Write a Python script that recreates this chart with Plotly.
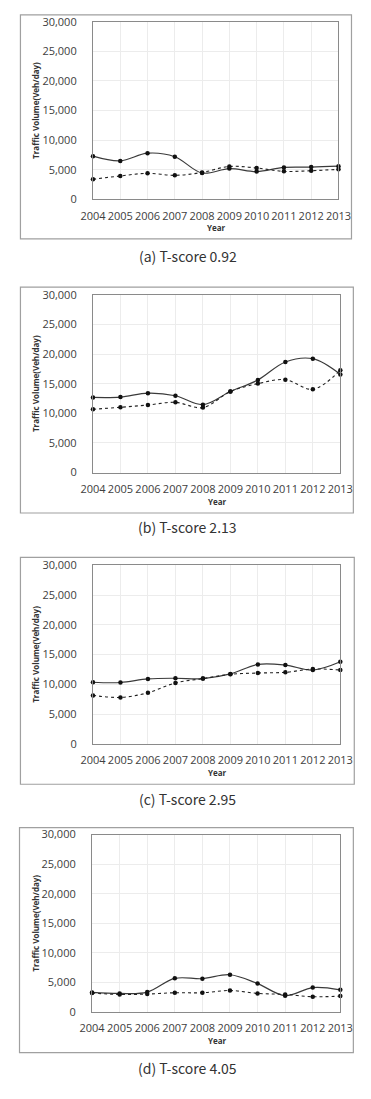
import plotly.graph_objects as go

W, H = 371, 1099

years = [2004, 2005, 2006, 2007, 2008, 2009, 2010, 2011, 2012, 2013]

a_solid = [7300, 6500, 7800, 7200, 4450, 5200, 4700, 5400, 5450, 5600]
a_dash = [3400, 3950, 4400, 4060, 4550, 5550, 5300, 4730, 4840, 5070]

b_solid = [12700, 12750, 13420, 12980, 11480, 13700, 15640, 18690, 19240, 16580]
b_dash = [10700, 11030, 11420, 11870, 10980, 13700, 15030, 15690, 14080, 17300]

c_solid = [10350, 10300, 10900, 11020, 10960, 11740, 13340, 13230, 12400, 13780]
c_dash = [8140, 7800, 8580, 10240, 10960, 11680, 11900, 12010, 12570, 12400]

d_solid = [3320, 3150, 3380, 5700, 5650, 6310, 4820, 2780, 4150, 3770]
d_dash = [3210, 2990, 3050, 3270, 3270, 3650, 3160, 2990, 2600, 2710]

captions = ["(a) T-score 0.92", "(b) T-score 2.13", "(c) T-score 2.95", "(d) T-score 4.05"]
y_ticks = [0, 5000, 10000, 15000, 20000, 25000, 30000]
y_ticklabels = ["0", "5,000", "10,000", "15,000", "20,000", "25,000", "30,000"]
x_title = "Year"
y_title = "Traffic Volume(Veh/day)"

panels = [(a_solid, a_dash), (b_solid, b_dash), (c_solid, c_dash), (d_solid, d_dash)]

# pixel layout: plot area (x0, x1, y0, y1), outer box (bx0, bx1, by0, by1), caption y
plot_px = [(86, 350, 14, 194), (86, 352, 291, 471), (86, 352, 565, 746), (85, 352, 838, 1018)]
box_px = [(8, 364, 7, 234), (8, 366, 283, 512), (8, 367, 557, 787), (7, 366, 831, 1059)]
cap_px = [251, 526, 802, 1075]

def px_x(p):
    return p / W

def px_y(p):
    return 1 - p / H

fig = go.Figure()
shapes = []
annotations = []

tick_font = dict(family="Open Sans", size=11, color="#404040")

for i, (solid, dash) in enumerate(panels):
    n = "" if i == 0 else str(i + 1)
    xa = "x" + n
    ya = "y" + n
    x0, x1, y0, y1 = plot_px[i]
    fig.add_trace(go.Scatter(
        x=years, y=solid, xaxis=xa, yaxis=ya, mode="lines+markers",
        line=dict(color="#3a3a3a", width=1.2, shape="spline", smoothing=1.0),
        marker=dict(color="#111111", size=4.5), cliponaxis=False, showlegend=False))
    fig.add_trace(go.Scatter(
        x=years, y=dash, xaxis=xa, yaxis=ya, mode="lines+markers",
        line=dict(color="#222222", width=1.1, dash="3px,3px", shape="spline", smoothing=1.0),
        marker=dict(color="#111111", size=4.5), cliponaxis=False, showlegend=False))

    fig.layout["xaxis" + n] = dict(
        domain=[px_x(x0), px_x(x1)], anchor=ya, range=[2004, 2013],
        tickmode="array", tickvals=years, ticktext=[str(y) for y in years],
        tickangle=0,
        showgrid=True, gridcolor="#ececec", gridwidth=1, zeroline=False,
        showline=True, linecolor="#8a8a8a", linewidth=1.2, mirror=True,
        ticks="", tickfont=tick_font, ticklabelstandoff=6, fixedrange=True)
    fig.layout["yaxis" + n] = dict(
        domain=[px_y(y1), px_y(y0)], anchor=xa, range=[0, 30000],
        tickmode="array", tickvals=y_ticks, ticktext=y_ticklabels,
        showgrid=True, gridcolor="#ececec", gridwidth=1, zeroline=False,
        showline=True, linecolor="#8a8a8a", linewidth=1.2, mirror=True,
        ticks="", tickfont=tick_font, ticklabelstandoff=13, fixedrange=True)

    bx0, bx1, by0, by1 = box_px[i]
    shapes.append(dict(type="rect", xref="paper", yref="paper",
                       x0=px_x(bx0), x1=px_x(bx1), y0=px_y(by1), y1=px_y(by0),
                       line=dict(color="#a0a0a0", width=1.2), fillcolor="rgba(0,0,0,0)",
                       layer="below"))
    # axis titles
    annotations.append(dict(text="<b>" + y_title + "</b>", xref="paper", yref="paper",
                            x=px_x(24), y=px_y((y0 + y1) / 2), showarrow=False,
                            textangle=-90, xanchor="center", yanchor="middle",
                            font=dict(family="Open Sans", size=8, color="#333333")))
    annotations.append(dict(text="<b>" + x_title + "</b>", xref="paper", yref="paper",
                            x=px_x((x0 + x1) / 2 + 1), y=px_y(y1 + 29), showarrow=False,
                            xanchor="center", yanchor="middle",
                            font=dict(family="Open Sans", size=8, color="#333333")))
    annotations.append(dict(text=captions[i], xref="paper", yref="paper",
                            x=px_x(188), y=px_y(cap_px[i]), showarrow=False,
                            xanchor="center", yanchor="middle",
                            font=dict(family="Noto Sans CJK KR", size=14, color="#333333")))

fig.update_layout(
    width=W, height=H, margin=dict(l=0, r=0, t=0, b=0),
    paper_bgcolor="white", plot_bgcolor="white",
    shapes=shapes, annotations=annotations, showlegend=False)

fig.write_html("out.html", config={"displayModeBar": False})
